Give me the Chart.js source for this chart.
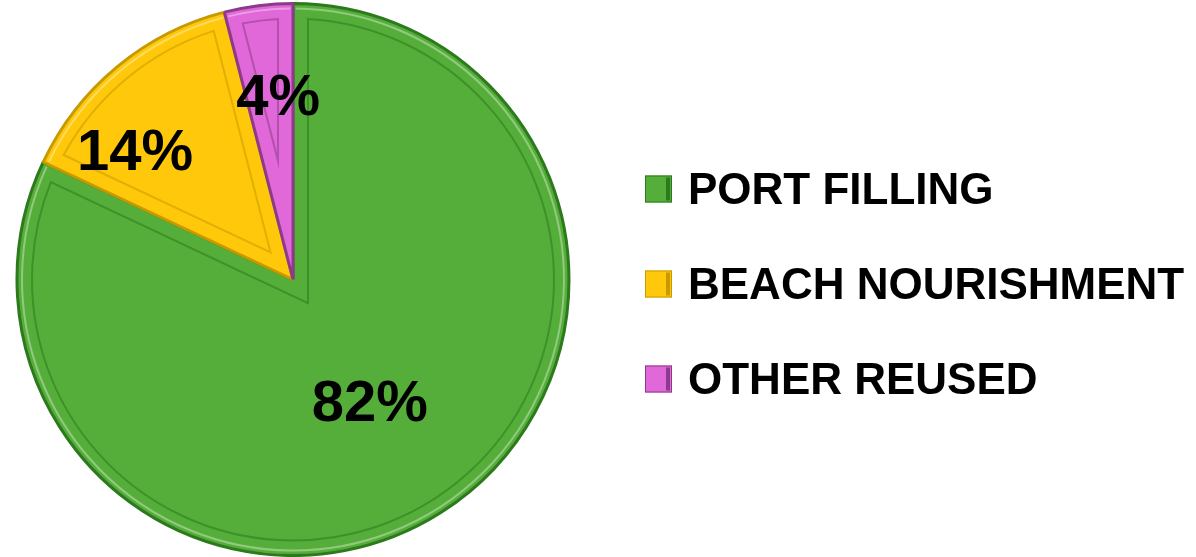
<!DOCTYPE html>
<html>
<head>
<meta charset="utf-8">
<script src="https://cdn.jsdelivr.net/npm/chart.js@4/dist/chart.umd.min.js"></script>
<style>
  html, body { margin: 0; padding: 0; background: #fff; }
  #wrap { width: 1196px; height: 557px; }
</style>
</head>
<body>
<div id="wrap"><canvas id="myChart" width="1196" height="557"></canvas></div>
<script>
// data
const categories = ['PORT FILLING', 'BEACH NOURISHMENT', 'OTHER REUSED'];
const shares = [82, 14, 4];
const percentLabels = ['82%', '14%', '4%'];

const fillColors = ['#56ae3a', '#ffc80a', '#e068d8'];
const edgeColors = ['#2c7a1c', '#c99a00', '#8e3a8a'];

// where each % label sits inside its slice: fraction along the arc, fraction of radius
const labelSpots = [
    { along: 0.50, out: 0.52 },
    { along: 0.28, out: 0.74 },
    { along: 0.68, out: 0.67 }
];

// inner bevel line, a few px inside every slice
const bevel = {
    id: 'bevel',
    afterDatasetsDraw(chart) {
        const ctx = chart.ctx;
        const meta = chart.getDatasetMeta(0);
        const d = 15;
        ctx.save();
        meta.data.forEach((arc, i) => {
            const p = arc.getProps(['x', 'y', 'startAngle', 'endAngle', 'outerRadius']);
            const span = p.endAngle - p.startAngle;
            const mid = p.startAngle + span / 2;
            const k = d / Math.sin(span / 2);
            const vx = Math.cos(mid) * k, vy = Math.sin(mid) * k;
            const rIn = p.outerRadius - d;
            const hit = (ang) => {
                const ux = Math.cos(ang), uy = Math.sin(ang);
                const b = vx * ux + vy * uy;
                const t = -b + Math.sqrt(b * b - (vx * vx + vy * vy) + rIn * rIn);
                return Math.atan2(vy + t * uy, vx + t * ux);
            };
            let a1 = hit(p.startAngle), a2 = hit(p.endAngle);
            while (a2 <= a1) a2 += Math.PI * 2;
            ctx.beginPath();
            ctx.moveTo(p.x + vx, p.y + vy);
            ctx.arc(p.x, p.y, rIn, a1, a2);
            ctx.closePath();
            ctx.strokeStyle = edgeColors[i];
            ctx.globalAlpha = 0.55;
            ctx.lineWidth = 2;
            ctx.stroke();
            ctx.globalAlpha = 0.35;
            ctx.strokeStyle = '#ffffff';
            ctx.lineWidth = 2;
            ctx.beginPath();
            ctx.arc(p.x, p.y, p.outerRadius - 5, p.startAngle + 0.01, p.endAngle - 0.01);
            ctx.stroke();
            ctx.globalAlpha = 1;
        });
        ctx.restore();
    }
};

// percent labels drawn on the slices
const sliceLabels = {
    id: 'sliceLabels',
    afterDatasetsDraw(chart) {
        const ctx = chart.ctx;
        const meta = chart.getDatasetMeta(0);
        ctx.save();
        ctx.font = 'bold 58px "Liberation Sans", Arial, sans-serif';
        ctx.fillStyle = '#000';
        ctx.textAlign = 'center';
        ctx.textBaseline = 'middle';
        meta.data.forEach((arc, i) => {
            const p = arc.getProps(['x', 'y', 'startAngle', 'endAngle', 'outerRadius']);
            const a = p.startAngle + (p.endAngle - p.startAngle) * labelSpots[i].along;
            const r = p.outerRadius * labelSpots[i].out;
            ctx.fillText(percentLabels[i], p.x + Math.cos(a) * r, p.y + Math.sin(a) * r + 4);
        });
        ctx.restore();
    }
};

// legend on the right
const sideLegend = {
    id: 'sideLegend',
    afterDraw(chart) {
        const ctx = chart.ctx;
        const x0 = 645, y0 = 189, gap = 95, box = 27;
        ctx.save();
        ctx.font = 'bold 44px "Liberation Sans", Arial, sans-serif';
        ctx.textBaseline = 'middle';
        categories.forEach((name, i) => {
            const y = y0 + i * gap;
            ctx.fillStyle = fillColors[i];
            ctx.fillRect(x0, y - box / 2, box, box);
            ctx.fillStyle = edgeColors[i];
            ctx.fillRect(x0 + box - 6, y - box / 2 + 2, 4, box - 4);
            ctx.strokeStyle = edgeColors[i];
            ctx.lineWidth = 1;
            ctx.strokeRect(x0 + 0.5, y - box / 2 + 0.5, box - 1, box - 1);
            ctx.fillStyle = '#000';
            ctx.fillText(name, 688, y + 3);
        });
        ctx.restore();
    }
};

const ctx = document.getElementById('myChart').getContext('2d');
const myChart = new Chart(ctx, {
    type: 'pie',
    data: {
        labels: categories,
        datasets: [{
            data: shares,
            backgroundColor: fillColors,
            borderColor: edgeColors,
            borderWidth: 3
        }]
    },
    options: {
        responsive: false,
        animation: false,
        layout: { padding: { left: 15, right: 625, top: 2, bottom: 0 } },
        plugins: {
            legend: { display: false },
            tooltip: { enabled: false }
        }
    },
    plugins: [bevel, sliceLabels, sideLegend]
});
</script>
</body>
</html>
